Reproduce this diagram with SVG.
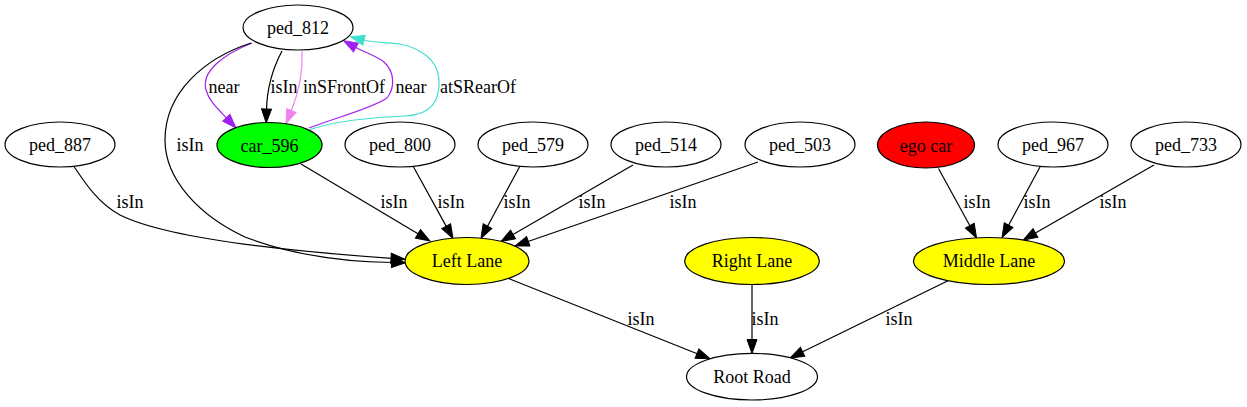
<svg xmlns="http://www.w3.org/2000/svg" width="1247" height="407" viewBox="0 0 1247 407">
<style>
.node ellipse{stroke:#000;stroke-width:1.2}
text{font-family:"Liberation Serif","Times New Roman",serif;font-size:18px;text-anchor:middle;fill:#000}
.e{fill:none;stroke-width:1.2}
.k{stroke:#000;marker-end:url(#ak)}
.p{stroke:#a020f0;marker-end:url(#ap)}
.v{stroke:#ee82ee;marker-end:url(#av)}
.t{stroke:#40e0d0;marker-end:url(#at)}
</style>
<defs>
<marker id="ak" markerUnits="userSpaceOnUse" markerWidth="15" markerHeight="11" refX="1" refY="5" orient="auto" overflow="visible"><path d="M0,0 L14,5 L0,10 Z" fill="#000" stroke="#000" stroke-width="1"/></marker>
<marker id="ap" markerUnits="userSpaceOnUse" markerWidth="15" markerHeight="11" refX="1" refY="5" orient="auto" overflow="visible"><path d="M0,0 L14,5 L0,10 Z" fill="#a020f0" stroke="#a020f0" stroke-width="1"/></marker>
<marker id="av" markerUnits="userSpaceOnUse" markerWidth="15" markerHeight="11" refX="1" refY="5" orient="auto" overflow="visible"><path d="M0,0 L14,5 L0,10 Z" fill="#ee82ee" stroke="#ee82ee" stroke-width="1"/></marker>
<marker id="at" markerUnits="userSpaceOnUse" markerWidth="15" markerHeight="11" refX="1" refY="5" orient="auto" overflow="visible"><path d="M0,0 L14,5 L0,10 Z" fill="#40e0d0" stroke="#40e0d0" stroke-width="1"/></marker>
</defs>
<rect width="1247" height="407" fill="#fff"/>
<g id="edges">
<path class="e p" d="M252,43 C222,55 201,72 206,90 C209,101 218,109 227,118.5"/>
<text x="224" y="92.5">near</text>
<path class="e k" d="M282,51 C274,66 267,88 266.5,110"/>
<text x="284" y="92.5">isIn</text>
<path class="e v" d="M302,51 C303,70 299,92 291,111.5"/>
<text x="344" y="92.5">inSFrontOf</text>
<path class="e p" d="M309,128 C335,118 373,108 387,98 C395,88 395,72 384,62 C377,56 366,53 355,47"/>
<text x="411" y="92.5">near</text>
<path class="e t" d="M309,130 C333,121 375,117 405,116 C432,115 440,100 439,80 C438,58 418,48 400,44 C388,42 375,43 363,40"/>
<text x="478" y="92.5">atSRearOf</text>
<path class="e k" d="M251,43 C205,58 165,92 165,140 C165,180 200,216 245,237 C295,256 350,262 392.5,262.5"/>
<text x="190" y="150.5">isIn</text>
<path class="e k" d="M73,165 C85,183 98,203 120,215 C170,240 300,252 392,258.3"/>
<text x="130" y="208">isIn</text>
<path class="e k" d="M301,164 L418.8,234.3"/>
<text x="394" y="208">isIn</text>
<path class="e k" d="M413,166 L446.7,227.1"/>
<text x="451" y="208">isIn</text>
<path class="e k" d="M520,166 L487.1,227"/>
<text x="517" y="208">isIn</text>
<path class="e k" d="M633,165 L512.2,235"/>
<text x="592" y="208">isIn</text>
<path class="e k" d="M758,162 L527.3,241.7"/>
<text x="683" y="208">isIn</text>
<path class="e k" d="M938.5,168.5 L970.3,226.5"/>
<text x="977" y="208">isIn</text>
<path class="e k" d="M1040.5,166 L1008.2,226"/>
<text x="1037" y="208">isIn</text>
<path class="e k" d="M1154,165 L1034.6,233.5"/>
<text x="1113" y="208">isIn</text>
<path class="e k" d="M508.5,278.5 L697.9,354"/>
<text x="641" y="324.5">isIn</text>
<path class="e k" d="M752,284.5 L752,340.5"/>
<text x="765" y="324.5">isIn</text>
<path class="e k" d="M948,280.7 L801.7,352.3"/>
<text x="899" y="324.5">isIn</text>
</g>
<g id="ped_812" class="node"><ellipse cx="298" cy="27.5" rx="55" ry="22.5" fill="#fff"/><text x="298" y="34">ped_812</text></g>
<g id="ped_887" class="node"><ellipse cx="60" cy="144.5" rx="55" ry="22.5" fill="#fff"/><text x="60" y="151">ped_887</text></g>
<g id="car_596" class="node"><ellipse cx="269.5" cy="145" rx="52.5" ry="22.5" fill="#00ff00"/><text x="269.5" y="151.5">car_596</text></g>
<g id="ped_800" class="node"><ellipse cx="400" cy="144.5" rx="55" ry="22.5" fill="#fff"/><text x="400" y="151">ped_800</text></g>
<g id="ped_579" class="node"><ellipse cx="533" cy="144.5" rx="55" ry="22.5" fill="#fff"/><text x="533" y="151">ped_579</text></g>
<g id="ped_514" class="node"><ellipse cx="666" cy="144.5" rx="55" ry="22.5" fill="#fff"/><text x="666" y="151">ped_514</text></g>
<g id="ped_503" class="node"><ellipse cx="800" cy="144.5" rx="55" ry="22.5" fill="#fff"/><text x="800" y="151">ped_503</text></g>
<g id="ego_car" class="node"><ellipse cx="926" cy="145" rx="48.5" ry="23" fill="#ff0000"/><text x="926" y="151.5">ego car</text></g>
<g id="ped_967" class="node"><ellipse cx="1053" cy="144.5" rx="55" ry="22.5" fill="#fff"/><text x="1053" y="151">ped_967</text></g>
<g id="ped_733" class="node"><ellipse cx="1186" cy="144.5" rx="55" ry="22.5" fill="#fff"/><text x="1186" y="151">ped_733</text></g>
<g id="left_lane" class="node"><ellipse cx="467" cy="261" rx="62" ry="23.5" fill="#ffff00"/><text x="467" y="267.3">Left Lane</text></g>
<g id="right_lane" class="node"><ellipse cx="752" cy="261" rx="67.3" ry="23.5" fill="#ffff00"/><text x="752" y="267.3">Right Lane</text></g>
<g id="middle_lane" class="node"><ellipse cx="989" cy="261" rx="75.5" ry="23.5" fill="#ffff00"/><text x="989" y="267.3">Middle Lane</text></g>
<g id="root_road" class="node"><ellipse cx="752" cy="376.7" rx="65.5" ry="23.3" fill="#fff"/><text x="752" y="383">Root Road</text></g>
</svg>
